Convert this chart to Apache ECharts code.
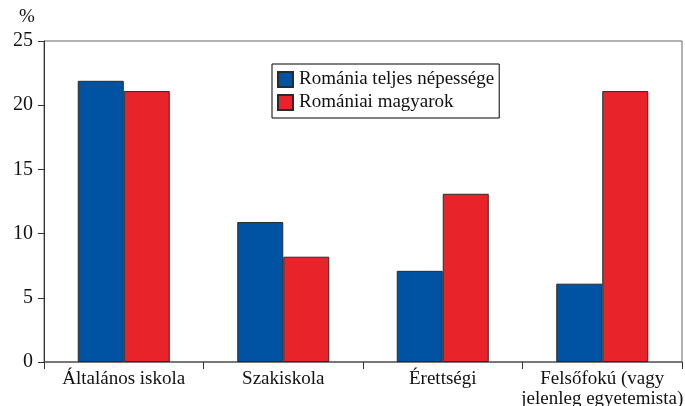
<!DOCTYPE html>
<html>
<head>
<meta charset="utf-8">
<script src="https://cdn.jsdelivr.net/npm/echarts@6/dist/echarts.min.js"></script>
<style>html,body{margin:0;padding:0;background:#fff}#c{width:685px;height:406px}</style>
</head>
<body>
<div id="c"></div>
<script>
const categories = ['Általános iskola', 'Szakiskola', 'Érettségi', 'Felsőfokú (vagy\njelenleg egyetemista)'];
const seriesNames = ['Románia teljes népessége', 'Romániai magyarok'];
const romaniaTotal = [21.9, 10.9, 7.1, 6.1];
const hungarians = [21.1, 8.2, 13.1, 21.1];
const yTicks = [0, 5, 10, 15, 20, 25];

const font = 'Liberation Serif';
const chart = echarts.init(document.getElementById('c'), null, {renderer: 'canvas'});
chart.setOption({
  animation: false,
  backgroundColor: '#fff',
  textStyle: {fontFamily: font},
  grid: {left: 44, right: 3, top: 41, bottom: 44, show: true, borderColor: '#666', borderWidth: 1,
         containLabel: false, outerBoundsMode: 'none'},
  legend: {
    orient: 'vertical', left: 272, top: 64,
    data: seriesNames,
    icon: 'rect', itemWidth: 15, itemHeight: 15, itemGap: 4,
    padding: [6, 5, 6, 5],
    borderColor: '#000', borderWidth: 1,
    textStyle: {fontFamily: font, fontSize: 19, color: '#111', padding: [0, 0, 0, 1]}
  },
  graphic: [{type: 'text', left: 19, top: 8, style: {text: '%', font: '19px "Liberation Serif"', fill: '#111'}}],
  xAxis: {
    type: 'category', data: categories,
    axisLine: {lineStyle: {color: '#666', width: 1.5}},
    axisTick: {show: true, length: 7, lineStyle: {color: '#333'}},
    axisLabel: {fontFamily: font, fontSize: 19, color: '#111', margin: 7, lineHeight: 20, interval: 0}
  },
  yAxis: {
    type: 'value', min: 0, max: 25, interval: 5,
    axisLine: {show: true, lineStyle: {color: '#333'}},
    axisTick: {show: true, length: 6, lineStyle: {color: '#333'}},
    splitLine: {show: false},
    axisLabel: {fontFamily: font, fontSize: 20, color: '#111', margin: 11,
      formatter: v => yTicks.includes(v) ? String(v) : ''}
  },
  series: [
    {name: seriesNames[0], type: 'bar', data: romaniaTotal, barWidth: 46, barGap: '0%',
     itemStyle: {color: '#0053A2', borderColor: '#2a2a2a', borderWidth: 1}},
    {name: seriesNames[1], type: 'bar', data: hungarians, barWidth: 46,
     itemStyle: {color: '#E8232A', borderColor: '#2a2a2a', borderWidth: 1}}
  ]
});
</script>
</body>
</html>
